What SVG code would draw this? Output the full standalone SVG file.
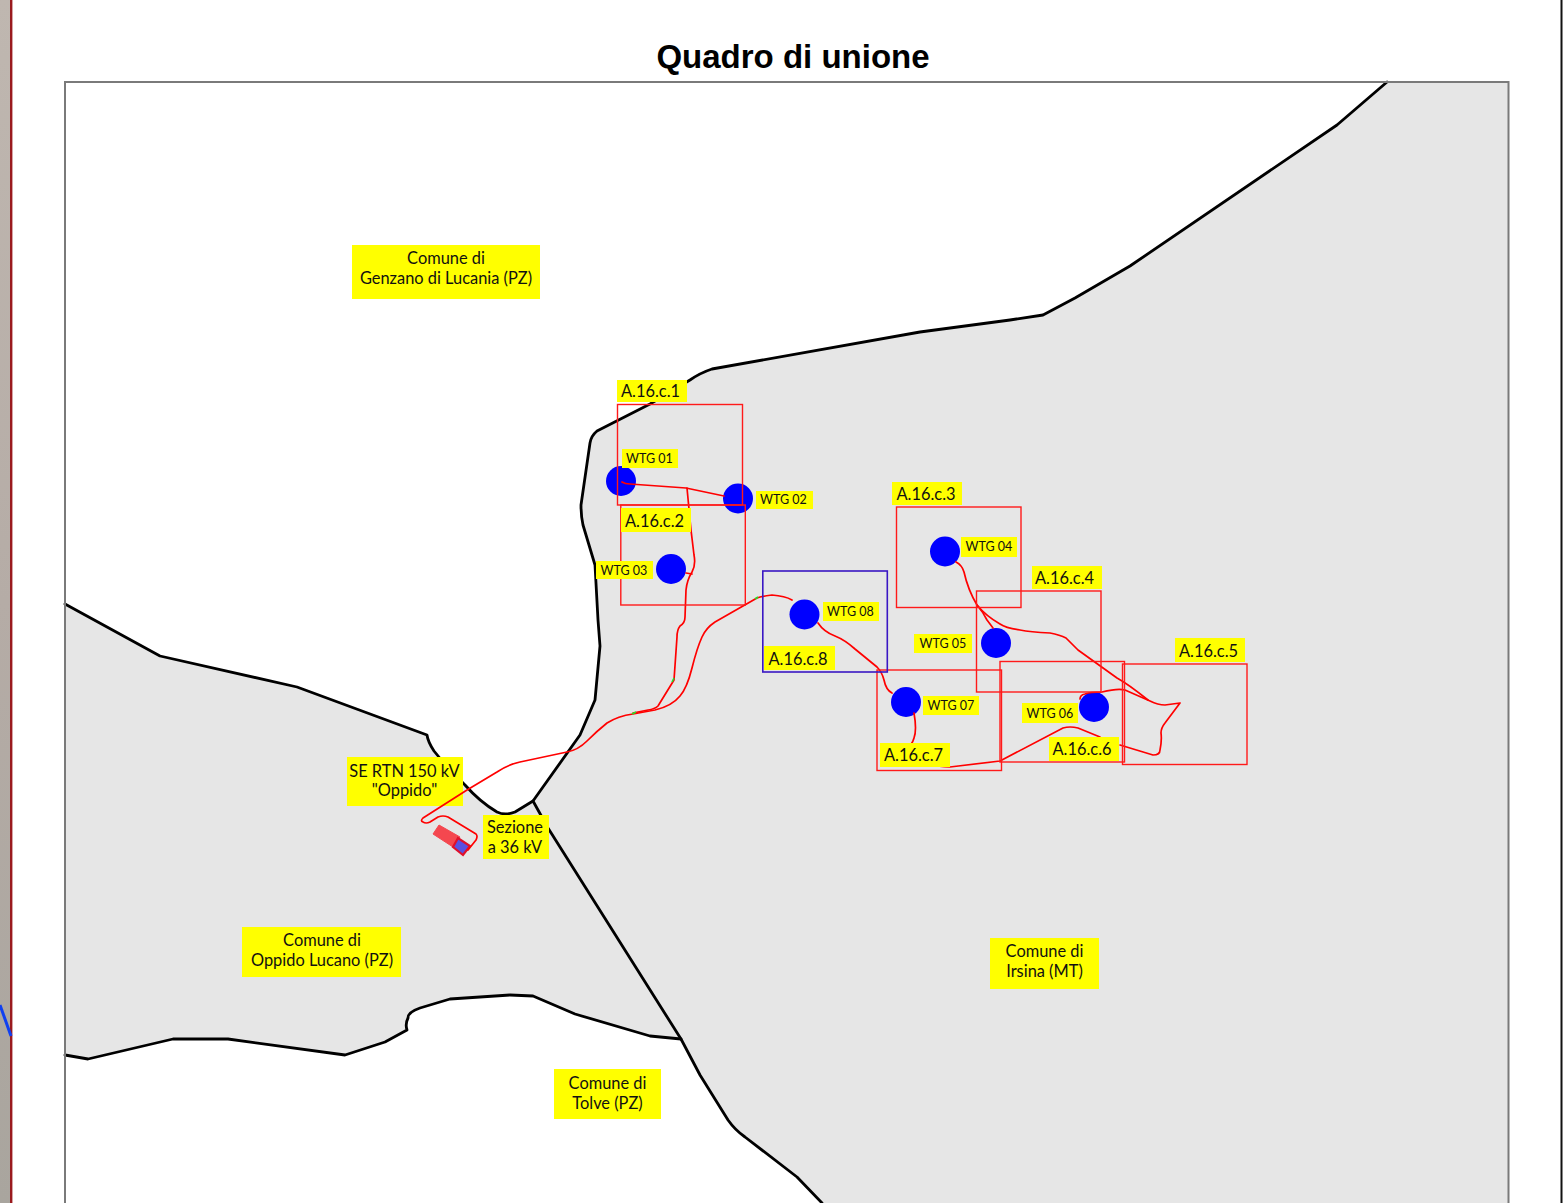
<svg xmlns="http://www.w3.org/2000/svg" width="1566" height="1203" viewBox="0 0 1566 1203">
<defs>
<linearGradient id="strip" x1="0" y1="0" x2="0" y2="1"><stop offset="0" stop-color="#bfb7b0"/><stop offset="0.5" stop-color="#b5aca6"/><stop offset="1" stop-color="#a9a59e"/></linearGradient>
</defs>
<style>
.region{fill:#e6e6e6;stroke:none}
.limit{fill:none;stroke:#000;stroke-width:2.8;stroke-linejoin:round;stroke-linecap:round}
.route{fill:none;stroke:#ff0000;stroke-width:1.7;stroke-linejoin:round;stroke-linecap:round}
.sheet{fill:none;stroke:#ff1a1a;stroke-width:1.4}
.sheet8{fill:none;stroke:#3a17c4;stroke-width:1.6}
.wtg{fill:#0000ff}
.tag{fill:#ffff00}
text{font-family:"Lato","Liberation Sans",sans-serif;fill:#111;text-anchor:middle}
.big{font-size:16.4px}
.small{font-size:12.5px}
.title{font-family:"Liberation Sans",Arial,sans-serif;font-weight:700;font-size:33px;fill:#000}
</style>
<rect width="1566" height="1203" fill="#fff"/>
<rect x="0" y="0" width="10" height="1203" fill="url(#strip)"/>
<rect x="10" y="0" width="2.4" height="1203" fill="#9a1a1e"/>
<path d="M0 1005L11 1036" fill="none" stroke="#1040f0" stroke-width="3"/>
<rect x="1560.500" y="0" width="2" height="1203" fill="#111"/>
<text class="title" x="793" y="68">Quadro di unione</text>

<g id="map">
<path class="region" d="M1387 82L1337 125L1130 266L1075 298L1043 315L1010 320L920 332L712 369L690 380L650 404L597 431L590 443L581 505L583 525L595 565L598 620L600 646L595 700L580 735L533 801L548 828L681 1039L700 1075L728 1120L745 1137L797 1177L822 1203L1508 1203L1508 82Z"/>
<path class="region" d="M65 604L160 656L297 687L427 735L430 745L440 760L465 785L490 808L505 815L515 812L533 801L548 828L681 1039L650 1036L575 1014L533 996L510 995L450 999L420 1008L408 1016L407 1030L385 1042L345 1055L228 1039L173 1039L88 1059L65 1055Z"/>
<path class="limit" d="M1387 82L1337 125L1130 266L1075 298L1043 315L1010 320L920 332L712 369Q700 373 690 380L650 404L597 431Q591 436 590 443L581 505Q581 516 583 525L595 565L598 620L600 646L595 700L580 735L533 801L548 828L681 1039L700 1075L728 1120Q735 1130 745 1137L797 1177L822 1203"/>
<path class="limit" d="M65 604L160 656L297 687L427 735Q428 742 434 751Q445 765 465 785Q480 802 497 812Q505 816 515 812L533 801"/>
<path class="limit" d="M681 1039L650 1036L575 1014L533 996L510 995L450 999L420 1008Q408 1012 408 1018Q405 1024 407 1030L385 1042L345 1055L228 1039L173 1039L88 1059L65 1055"/>
<rect x="65" y="82" width="1443.500" height="1125" fill="none" stroke="#7a7a7a" stroke-width="2"/>
</g>

<g id="substation">
<path d="M433 834L439 825L460 837L453 847Z" fill="#f4474f" stroke="#f4474f" stroke-width="1"/>
<path d="M453 847L458 838L470 846L463 855Z" fill="#5a50e0" stroke="#e0102a" stroke-width="2.200"/>
</g>

<g id="wtg-01"><circle class="wtg" cx="621" cy="481" r="15"/></g>
<g id="wtg-02"><circle class="wtg" cx="738" cy="498.500" r="15"/></g>
<g id="wtg-03"><circle class="wtg" cx="671" cy="569" r="15"/></g>
<g id="wtg-04"><circle class="wtg" cx="945" cy="551.500" r="15"/></g>
<g id="wtg-05"><circle class="wtg" cx="996" cy="643" r="15"/></g>
<g id="wtg-06"><circle class="wtg" cx="1094" cy="707" r="15"/></g>
<g id="wtg-07"><circle class="wtg" cx="906" cy="702" r="15"/></g>
<g id="wtg-08"><circle class="wtg" cx="804.500" cy="614.500" r="15"/></g>

<g id="label-se"><rect class="tag" x="347" y="757" width="116" height="49"/><text class="big" x="404.500" y="776.500">SE RTN 150 kV</text><text class="big" x="404.500" y="795.500">"Oppido"</text></g>

<g id="connectors">
<path class="route" d="M622 482Q625 484 630 484L686 488L724 496"/>
<path class="route" d="M687 488L691 530L694 555Q696 565 692 572Q687 580 686 590L685 617Q685 623 680 626Q677 630 677 637L674 680L658 706Q655 709 648 710L633 713"/>
<path class="route" d="M686 573L692 574"/>
<path class="route" d="M792 600Q785 596 772 595Q762 596 757 598L715 622Q706 628 702 637Q697 648 692 668Q687 688 680 696Q672 706 655 710L633 714Q618 716 607 723Q597 731 587 741Q578 750 567 752L520 762Q507 765 497 772L467 790L423 818Q420 821 423 822Q426 824 430 822L438 817Q443 815 448 817L476 834Q478 836 476 840L468 850"/>
<path class="route" d="M818 623Q824 632 835 636Q845 640 855 649L877 667Q882 672 884 680Q886 690 892 693"/>
<path class="route" d="M914 713Q917 730 914 738Q912 746 905 749M937 766Q945 767 950 767L1000 761L1063 728Q1070 726 1078 728L1100 737M1120 745L1153 755Q1160 755 1160 750Q1162 740 1161 733Q1161 728 1165 723L1180 703L1165 705Q1158 705 1150 701L1125 690Q1118 688 1102 692Q1090 692 1085 694Q1080 695 1080 699"/>
<path class="route" d="M956 562Q962 565 964 572Q968 590 977 605Q983 612 987 620L993 628"/>
<path class="route" d="M977 605Q986 616 1000 624Q1006 628 1020 630Q1030 632 1050 633Q1060 635 1066 638Q1072 644 1078 650L1117 678Q1128 684 1148 700"/>
<path d="M672 682L674 678M632 714L636 712M755 599L758 597" fill="none" stroke="#22e02a" stroke-width="1.600"/>
</g>

<g id="sheet-1"><rect class="sheet" x="617.500" y="404.500" width="125" height="100.500"/></g>
<g id="sheet-2"><rect class="sheet" x="620.800" y="505" width="124.500" height="100"/></g>
<g id="sheet-3"><rect class="sheet" x="896.500" y="507" width="124.500" height="100.500"/></g>
<g id="sheet-4"><rect class="sheet" x="976.500" y="591" width="124.500" height="101"/></g>
<g id="sheet-5"><rect class="sheet" x="1122.500" y="664" width="124.500" height="100.500"/></g>
<g id="sheet-6"><rect class="sheet" x="1000" y="661.500" width="124.500" height="100.500"/></g>
<g id="sheet-7"><rect class="sheet" x="877" y="670" width="124.500" height="100.500"/></g>
<g id="sheet-8"><rect class="sheet8" x="762.800" y="571" width="124.500" height="101"/></g>

<g id="label-genzano"><rect class="tag" x="352" y="245" width="188" height="54"/><text class="big" x="446" y="263.500">Comune di</text><text class="big" x="446" y="283.500">Genzano di Lucania (PZ)</text></g>
<g id="label-oppido"><rect class="tag" x="242" y="927" width="159" height="50"/><text class="big" x="322" y="945.500">Comune di</text><text class="big" x="322" y="965.500">Oppido Lucano (PZ)</text></g>
<g id="label-irsina"><rect class="tag" x="990" y="938" width="109" height="51"/><text class="big" x="1044.500" y="956.500">Comune di</text><text class="big" x="1044.500" y="976.500">Irsina (MT)</text></g>
<g id="label-tolve"><rect class="tag" x="554" y="1069" width="107" height="50"/><text class="big" x="607.500" y="1088.500">Comune di</text><text class="big" x="607.500" y="1108.500">Tolve (PZ)</text></g>
<g id="label-sezione"><rect class="tag" x="483" y="815" width="66" height="44"/><text class="big" x="515" y="832.500">Sezione</text><text class="big" x="515" y="852.500">a 36 kV</text></g>

<g id="label-c1"><rect class="tag" x="617" y="380" width="70" height="22"/><text class="big" x="650.500" y="396.500">A.16.c.1</text></g>
<g id="label-c2"><rect class="tag" x="621" y="508" width="70" height="24"/><text class="big" x="654.500" y="526.500">A.16.c.2</text></g>
<g id="label-c3"><rect class="tag" x="892" y="482" width="70" height="23"/><text class="big" x="926" y="499.500">A.16.c.3</text></g>
<g id="label-c4"><rect class="tag" x="1032" y="566" width="70" height="23"/><text class="big" x="1064.500" y="583.500">A.16.c.4</text></g>
<g id="label-c5"><rect class="tag" x="1175" y="638" width="70" height="24"/><text class="big" x="1208.500" y="656.500">A.16.c.5</text></g>
<g id="label-c6"><rect class="tag" x="1049" y="737" width="70" height="24"/><text class="big" x="1082" y="754.500">A.16.c.6</text></g>
<g id="label-c7"><rect class="tag" x="880" y="743" width="70" height="24"/><text class="big" x="913.500" y="760.500">A.16.c.7</text></g>
<g id="label-c8"><rect class="tag" x="764" y="646" width="71" height="24"/><text class="big" x="798" y="664.500">A.16.c.8</text></g>

<g id="label-wtg01"><rect class="tag" x="622" y="449" width="56" height="19"/><text class="small" x="649.500" y="463">WTG 01</text></g>
<g id="label-wtg02"><rect class="tag" x="756" y="491" width="57" height="18"/><text class="small" x="783.500" y="504">WTG 02</text></g>
<g id="label-wtg03"><rect class="tag" x="596" y="561" width="57" height="18"/><text class="small" x="624" y="575">WTG 03</text></g>
<g id="label-wtg04"><rect class="tag" x="961" y="537" width="56" height="20"/><text class="small" x="989" y="551">WTG 04</text></g>
<g id="label-wtg05"><rect class="tag" x="914" y="634" width="58" height="19"/><text class="small" x="943" y="648">WTG 05</text></g>
<g id="label-wtg06"><rect class="tag" x="1022" y="703" width="56" height="20"/><text class="small" x="1050" y="718">WTG 06</text></g>
<g id="label-wtg07"><rect class="tag" x="923" y="696" width="56" height="19"/><text class="small" x="951" y="710">WTG 07</text></g>
<g id="label-wtg08"><rect class="tag" x="823" y="602" width="56" height="19"/><text class="small" x="850.500" y="616">WTG 08</text></g>
</svg>
